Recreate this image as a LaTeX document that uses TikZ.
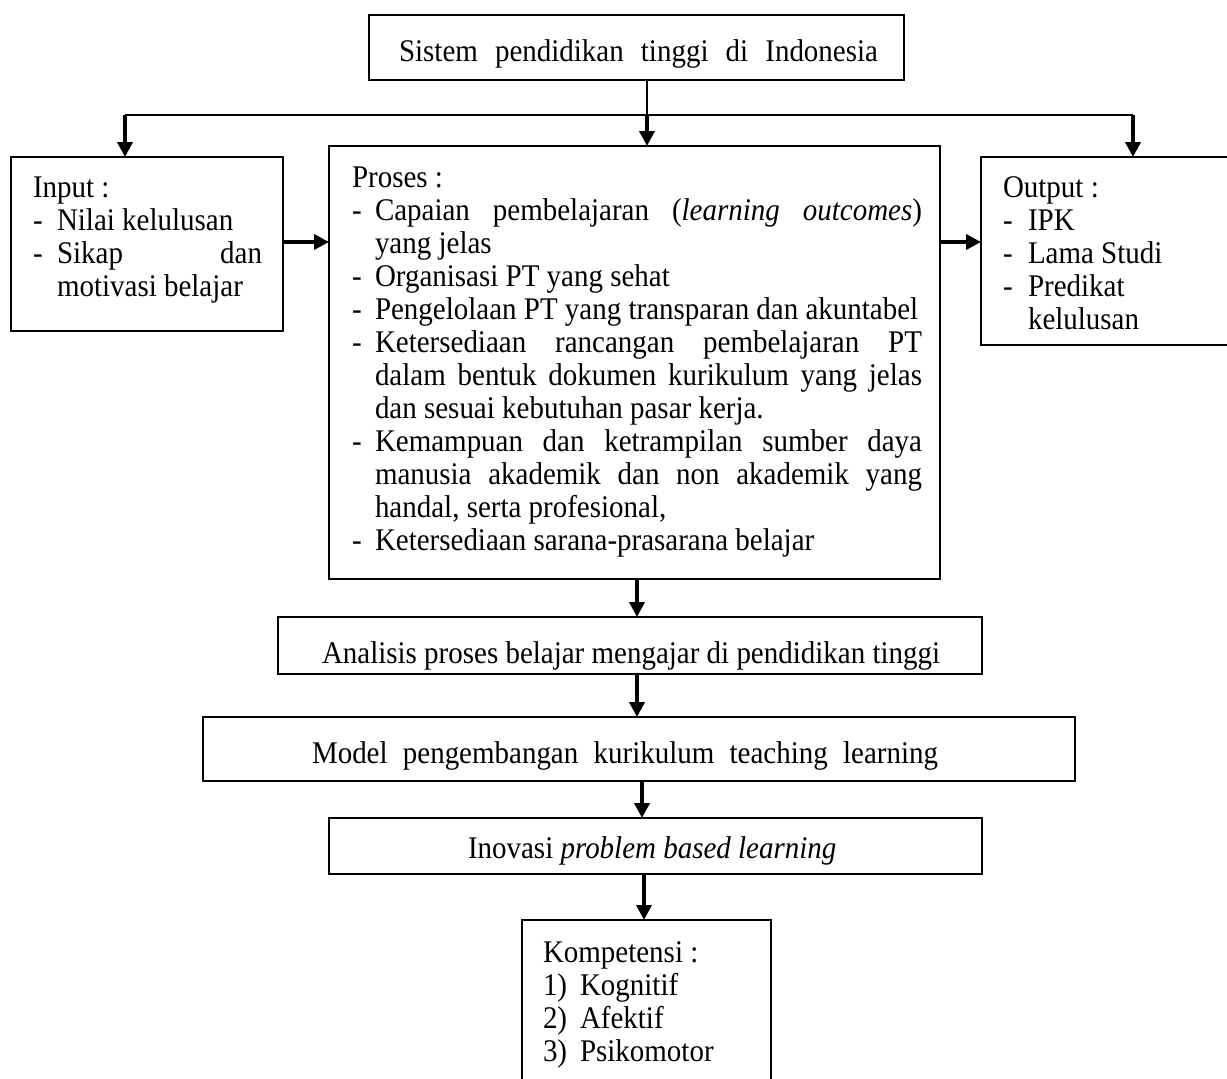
\documentclass[tikz,border=0pt]{standalone}
\usepackage{fontspec}
\setmainfont{Liberation Serif}[FakeStretch=0.92]
\usetikzlibrary{arrows.meta}
\tikzset{
  box/.style={draw, line width=2pt, inner sep=0pt, outer sep=0pt, anchor=north west},
  txt/.style={inner sep=0pt, outer sep=0pt, anchor=base west, font=\fontsize{31.5}{33}\selectfont},
  thinline/.style={line width=2pt},
  arr/.style={line width=4pt, -{Triangle[width=15pt,length=15pt]}},
}
\begin{document}
\begin{tikzpicture}[x=1pt,y=-1pt]
\useasboundingbox (0,0) rectangle (1227,1079);
% boxes
\node[box, minimum width=535pt, minimum height=65pt]  (top)    at (369,15)  {};
\node[box, minimum width=272pt, minimum height=174pt] (inp)    at (11,157)  {};
\node[box, minimum width=611pt, minimum height=433pt] (proses) at (329,146) {};
\node[box, minimum width=290pt, minimum height=188pt] (outp)   at (981,157) {};
\node[box, minimum width=704pt, minimum height=57pt]  (anal)   at (278,617) {};
\node[box, minimum width=872pt, minimum height=64pt]  (model)  at (203,717) {};
\node[box, minimum width=653pt, minimum height=56pt]  (inov)   at (329,818) {};
\node[box, minimum width=249pt, minimum height=200pt] (komp)   at (522,920) {};
% texts
\node[txt] (t0) at (399,61) {\makebox[479pt][s]{Sistem pendidikan tinggi di Indonesia}};
% input
\node[txt] (i0) at (33,197) {Input :};
\node[txt] (i1d) at (33,230) {-};
\node[txt] (i1) at (57,230) {Nilai kelulusan};
\node[txt] (i2d) at (33,263) {-};
\node[txt] (i2) at (57,263) {\makebox[205pt][s]{Sikap dan}};
\node[txt] (i3) at (57,296) {motivasi belajar};
% output
\node[txt] (o0) at (1003,197) {Output :};
\node[txt] (o1d) at (1003,230) {-};
\node[txt] (o1) at (1028,230) {IPK};
\node[txt] (o2d) at (1003,263) {-};
\node[txt] (o2) at (1028,263) {Lama Studi};
\node[txt] (o3d) at (1003,296) {-};
\node[txt] (o3) at (1028,296) {Predikat};
\node[txt] (o4) at (1028,329) {kelulusan};
% proses
\node[txt] (p0) at (352,187) {Proses :};
\node[txt] (p1d) at (352,220) {-};
\node[txt] (p1) at (375,220) {\makebox[547pt][s]{Capaian pembelajaran (\textit{learning outcomes})}};
\node[txt] (p2) at (375,253) {yang jelas};
\node[txt] (p3d) at (352,286) {-};
\node[txt] (p3) at (375,286) {Organisasi PT yang sehat};
\node[txt] (p4d) at (352,319) {-};
\node[txt] (p4) at (375,319) {Pengelolaan PT yang transparan dan akuntabel};
\node[txt] (p5d) at (352,352) {-};
\node[txt] (p5) at (375,352) {\makebox[547pt][s]{Ketersediaan rancangan pembelajaran PT}};
\node[txt] (p6) at (375,385) {\makebox[547pt][s]{dalam bentuk dokumen kurikulum yang jelas}};
\node[txt] (p7) at (375,418) {dan sesuai kebutuhan pasar kerja.};
\node[txt] (p8d) at (352,451) {-};
\node[txt] (p8) at (375,451) {\makebox[547pt][s]{Kemampuan dan ketrampilan sumber daya}};
\node[txt] (p9) at (375,484) {\makebox[547pt][s]{manusia akademik dan non akademik yang}};
\node[txt] (p10) at (375,517) {handal, serta profesional,};
\node[txt] (p11d) at (352,550) {-};
\node[txt] (p11) at (375,550) {Ketersediaan sarana-prasarana belajar};
% single-line boxes
\node[txt] (a0) at (322,663) {Analisis proses belajar mengajar di pendidikan tinggi};
\node[txt] (m0) at (312,763) {\makebox[626pt][s]{Model pengembangan kurikulum teaching learning}};
\node[txt] (n0) at (468,858) {Inovasi \textit{problem based learning}};
% kompetensi
\node[txt] (k0) at (543,962) {Kompetensi :};
\node[txt] (k1d) at (543,995) {1)};
\node[txt] (k1) at (580,995) {Kognitif};
\node[txt] (k2d) at (543,1028) {2)};
\node[txt] (k2) at (580,1028) {Afektif};
\node[txt] (k3d) at (543,1061) {3)};
\node[txt] (k3) at (580,1061) {Psikomotor};
% connectors
\coordinate (j)  at (647,115);
\coordinate (jl) at (125,115);
\coordinate (jr) at (1133,115);
\draw[thinline] (top.south -| j) -- (j);
\draw[thinline] (jl) -- (jr);
\draw[arr] (jl) -- (jl |- inp.north);
\draw[arr] (j) -- (j |- proses.north);
\draw[arr] (jr) -- (jr |- outp.north);
\coordinate (ry) at (0,242);
\draw[arr] (inp.east |- ry) -- (proses.west |- ry);
\draw[arr] (proses.east |- ry) -- (outp.west |- ry);
\coordinate (c1) at (637,0);
\coordinate (c2) at (642,0);
\coordinate (c3) at (644,0);
\draw[arr] (proses.south -| c1) -- (anal.north -| c1);
\draw[arr] (anal.south -| c1) -- (model.north -| c1);
\draw[arr] (model.south -| c2) -- (inov.north -| c2);
\draw[arr] (inov.south -| c3) -- (komp.north -| c3);
\end{tikzpicture}
\end{document}
